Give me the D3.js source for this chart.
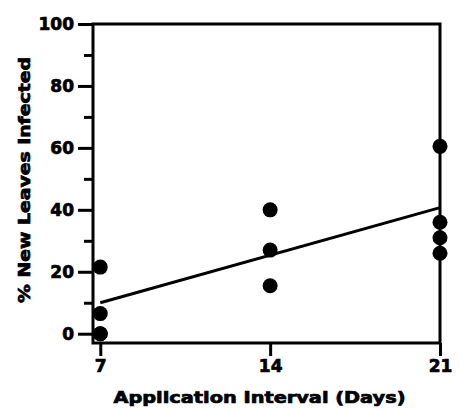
<!DOCTYPE html>
<html><head><meta charset="utf-8">
<script src="https://cdn.jsdelivr.net/npm/d3@7"></script>
<style>
body{margin:0;background:#fff;}
svg{display:block;}
text{font-family:"DejaVu Sans",sans-serif;font-weight:bold;fill:#000;stroke:#000;stroke-width:0.7px;}
</style></head>
<body>
<svg id="chart" width="460" height="413"></svg>
<script>
// Data
const intervals = [7, 7, 7, 7, 14, 14, 14, 21, 21, 21, 21];
const infected  = [21.5, 6.5, 0, 0, 40, 27, 15.5, 60.5, 36, 31, 26];
const fitX = [7, 21];
const fitY = [10, 40.7];
const xTicks = [7, 14, 21];
const yMajor = [0, 20, 40, 60, 80, 100];
const yMinor = [10, 30, 50, 70, 90];
const xTitle = "Application Interval (Days)";
const yTitle = "% New Leaves Infected";

const svg = d3.select("#chart");
const x = d3.scaleLinear().domain([6.7, 21]).range([93, 440]);
const y = d3.scaleLinear().domain([-3, 100]).range([343, 24]);
const [x0, x1] = x.range();
const [y0, y1] = y.range();

// minor y ticks
svg.append("g").attr("transform", `translate(${x0},0)`)
  .call(d3.axisLeft(y).tickValues(yMinor).tickSize(9).tickFormat(""))
  .call(g => g.select(".domain").remove())
  .call(g => g.selectAll("line").attr("stroke-width", 3));

// major y ticks
svg.append("g").attr("transform", `translate(${x0},0)`)
  .call(d3.axisLeft(y).tickValues(yMajor).tickSize(15).tickPadding(4).tickFormat(d3.format("d")))
  .call(g => g.select(".domain").remove())
  .call(g => g.selectAll("line").attr("stroke-width", 3))
  .call(g => g.selectAll("text").style("font-size", "17px").attr("fill", "#000"));

// x ticks
svg.append("g").attr("transform", `translate(0,${y0})`)
  .call(d3.axisBottom(x).tickValues(xTicks).tickSize(13).tickPadding(4).tickFormat(d3.format("d")))
  .call(g => g.select(".domain").remove())
  .call(g => g.selectAll("line").attr("stroke-width", 3))
  .call(g => g.selectAll("text").style("font-size", "17px").attr("fill", "#000"));

// frame
svg.append("path")
  .attr("d", `M${x0},${y1}L${x0},${y0}L${x1},${y0}L${x1},${y1}Z`)
  .attr("fill", "none").attr("stroke", "#000").attr("stroke-width", 3);

// regression line
svg.append("path")
  .datum(fitX.map((d, i) => [d, fitY[i]]))
  .attr("d", d3.line().x(d => x(d[0])).y(d => y(d[1])))
  .attr("fill", "none").attr("stroke", "#000").attr("stroke-width", 3);

// points
svg.append("g").selectAll("circle")
  .data(intervals.map((d, i) => [d, infected[i]]))
  .join("circle")
  .attr("cx", d => x(d[0])).attr("cy", d => y(d[1]))
  .attr("r", 7.5).attr("fill", "#000");

// titles
svg.append("text")
  .attr("x", 259.5).attr("y", 403)
  .attr("text-anchor", "middle")
  .attr("textLength", 292).attr("lengthAdjust", "spacingAndGlyphs")
  .style("font-size", "15px")
  .text(xTitle);

svg.append("text")
  .attr("transform", "translate(30,180) rotate(-90)")
  .attr("text-anchor", "middle")
  .attr("textLength", 246).attr("lengthAdjust", "spacingAndGlyphs")
  .style("font-size", "15px")
  .text(yTitle);
</script>
</body></html>
